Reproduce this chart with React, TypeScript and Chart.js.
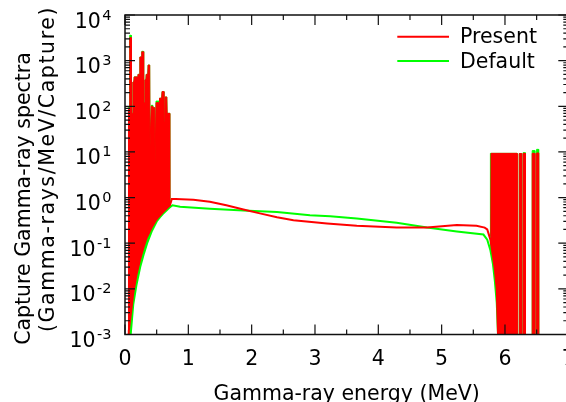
import React, { useEffect, useRef } from "react";
import { Chart, registerables } from "chart.js";

Chart.register(...registerables);

// ---------- data ----------
const seriesLabels = ["Present", "Default"];
const seriesColors = ["#ff0000", "#00ff00"];

// smooth continuum, Present
const presentX = [0.04, 0.055, 0.06, 0.095, 0.13, 0.18, 0.24, 0.29, 0.34, 0.42, 0.5, 0.6, 0.71, 0.74, 0.8, 1.08, 1.34, 1.6, 1.87, 2.13, 2.4, 2.66, 3.19, 3.66, 4.29, 4.77, 5.24, 5.55, 5.68, 5.72, 5.77, 5.81, 5.84, 5.87, 5.89, 5.9, 6.6];
const presentY = [1e-5, 1e-3, 1.2e-3, 3e-3, 8e-3, 0.02, 0.045, 0.08, 0.13, 0.22, 0.34, 0.48, 0.68, 0.93, 0.93, 0.9, 0.81, 0.68, 0.55, 0.45, 0.37, 0.32, 0.27, 0.24, 0.22, 0.22, 0.25, 0.24, 0.22, 0.2, 0.12, 0.052, 0.027, 0.01, 1e-3, 1e-5, 1e-5];

// smooth continuum, Default
const defaultX = [0.06, 0.09, 0.13, 0.18, 0.24, 0.3, 0.35, 0.42, 0.5, 0.55, 0.6, 0.7, 0.75, 0.87, 1.34, 1.87, 2.4, 2.92, 3.24, 3.66, 4.29, 4.77, 5.24, 5.66, 5.72, 5.77, 5.81, 5.84, 5.87, 5.89, 5.9, 6.6];
const defaultY = [1e-5, 1e-3, 4.5e-3, 0.012, 0.03, 0.06, 0.1, 0.18, 0.3, 0.37, 0.44, 0.6, 0.68, 0.63, 0.57, 0.52, 0.48, 0.41, 0.39, 0.35, 0.28, 0.22, 0.18, 0.155, 0.12, 0.07, 0.035, 0.015, 0.005, 1e-3, 1e-5, 1e-5];

// discrete-line envelopes, Present (null = gap)
const presentSpikeX = [0.045, 0.07, 0.075, 0.095, 0.1, 0.12, 0.125, 0.14, 0.145, 0.2, 0.205, 0.23, 0.235, 0.26, 0.265, 0.29, 0.295, 0.31, 0.315, 0.33, 0.335, 0.36, 0.365, 0.39, 0.395, 0.41, 0.415, 0.44, 0.445, 0.47, 0.475, 0.485, 0.49, 0.54, 0.545, 0.58, 0.585, 0.61, 0.615, 0.63, 0.635, 0.66, 0.665, 0.71, 0.712,
  3.0,
  5.775, 5.78, 6.19, 6.192, 6.223, 6.225, 6.26, 6.262, 6.283, 6.285, 6.32, 6.322, 6.428, 6.43, 6.47, 6.472, 6.498, 6.5, 6.53, 6.532];
const presentSpikeY = [80, 90, 3200, 3200, 70, 70, 340, 340, 440, 440, 500, 500, 1200, 1200, 1560, 1560, 120, 120, 380, 380, 500, 500, 800, 800, 13, 13, 100, 100, 93, 93, 5, 5, 120, 120, 150, 150, 210, 210, 46, 46, 160, 160, 70, 70, 0.68,
  null,
  0.14, 9.3, 9.3, 1e-5, 1e-5, 9.2, 9.2, 1e-5, 1e-5, 9.3, 9.3, 1e-5, 1e-5, 9.3, 9.3, 1e-5, 1e-5, 9.5, 9.5, 1e-5];

// discrete-line envelopes, Default (null = gap)
const defaultSpikeX = [0.045, 0.07, 0.075, 0.095, 0.1, 0.12, 0.125, 0.14, 0.145, 0.2, 0.205, 0.23, 0.235, 0.26, 0.265, 0.29, 0.295, 0.31, 0.315, 0.33, 0.335, 0.36, 0.365, 0.39, 0.395, 0.41, 0.415, 0.44, 0.445, 0.47, 0.475, 0.485, 0.49, 0.54, 0.545, 0.58, 0.585, 0.61, 0.615, 0.63, 0.635, 0.66, 0.665, 0.71, 0.712,
  3.0,
  5.765, 5.77, 6.19, 6.192, 6.223, 6.225, 6.26, 6.262, 6.283, 6.285, 6.32, 6.322, 6.428, 6.43, 6.47, 6.472, 6.498, 6.5, 6.53, 6.532];
const defaultSpikeY = [95, 95, 3600, 3600, 70, 70, 340, 340, 440, 440, 500, 500, 1200, 1200, 1600, 1600, 120, 120, 380, 380, 500, 500, 800, 800, 13, 13, 105, 105, 93, 93, 5, 5, 130, 130, 150, 150, 210, 210, 46, 46, 160, 160, 70, 70, 0.6,
  null,
  0.09, 9.3, 9.3, 1e-5, 1e-5, 9.2, 9.2, 1e-5, 1e-5, 9.6, 9.6, 1e-5, 1e-5, 10.7, 10.7, 1e-5, 1e-5, 11.4, 11.4, 1e-5];

const xTickValues = [0, 1, 2, 3, 4, 5, 6, 7];
const yTickExponents = [-3, -2, -1, 0, 1, 2, 3, 4];
const xTitle = "Gamma-ray energy (MeV)";
const yTitleLines = ["Capture Gamma-ray spectra", "(Gamma-rays/MeV/Capture)"];

// ---------- layout ----------
const W = 600;
const H = 420;
const FONT = '"DejaVu Sans", sans-serif';

const toPoints = (xs: number[], ys: (number | null)[]) => xs.map((x, i) => ({ x, y: ys[i] }));

const decorPlugin = {
  id: "decor",
  afterDraw(chart: any) {
    const { ctx, chartArea: a } = chart;
    const xs = chart.scales.x;
    const ys = chart.scales.y;
    ctx.save();
    ctx.strokeStyle = "#111";
    ctx.lineWidth = 1.5;
    ctx.strokeRect(a.left, a.top, a.right - a.left, a.bottom - a.top);

    ctx.lineWidth = 1.2;
    ctx.beginPath();
    // x ticks (major + half-unit minor), bottom and top, inward
    xTickValues.forEach((v, i) => {
      const px = xs.getPixelForValue(v);
      ctx.moveTo(px, a.bottom); ctx.lineTo(px, a.bottom - 10);
      ctx.moveTo(px, a.top); ctx.lineTo(px, a.top + 10);
      if (i < xTickValues.length - 1) {
        const pm = xs.getPixelForValue((v + xTickValues[i + 1]) / 2);
        ctx.moveTo(pm, a.bottom); ctx.lineTo(pm, a.bottom - 5);
        ctx.moveTo(pm, a.top); ctx.lineTo(pm, a.top + 5);
      }
    });
    // y ticks (decades + 2..9 minors), left and right, inward
    yTickExponents.forEach((k, i) => {
      const py = ys.getPixelForValue(Math.pow(10, k));
      ctx.moveTo(a.left, py); ctx.lineTo(a.left + 10, py);
      ctx.moveTo(a.right, py); ctx.lineTo(a.right - 10, py);
      if (i < yTickExponents.length - 1) {
        for (let m = 2; m <= 9; m++) {
          const pm = ys.getPixelForValue(m * Math.pow(10, k));
          ctx.moveTo(a.left, pm); ctx.lineTo(a.left + 5, pm);
          ctx.moveTo(a.right, pm); ctx.lineTo(a.right - 5, pm);
        }
      }
    });
    ctx.stroke();

    ctx.fillStyle = "#000";
    // x tick labels
    ctx.font = `20.5px ${FONT}`;
    ctx.textAlign = "center";
    ctx.textBaseline = "alphabetic";
    xTickValues.forEach((v) => {
      ctx.fillText(String(v), xs.getPixelForValue(v), 365);
    });
    // y tick labels 10^k
    const rightEdge = 111.5;
    yTickExponents.forEach((k) => {
      const py = ys.getPixelForValue(Math.pow(10, k));
      const exp = String(k);
      ctx.font = `14.5px ${FONT}`;
      ctx.textAlign = "right";
      const ew = ctx.measureText(exp).width;
      ctx.fillText(exp, rightEdge, py + 4.5);
      ctx.font = `20.5px ${FONT}`;
      ctx.fillText("10", rightEdge - ew - 1.5, py + 12.5);
    });
    // axis titles
    ctx.font = `20.5px ${FONT}`;
    ctx.textAlign = "center";
    ctx.fillText(xTitle, (a.left + a.right) / 2, 400);
    const yLinePos = [
      { x: 29.5, y: 198.5, sp: 0 },
      { x: 53.5, y: 169, sp: 1.6 },
    ];
    yTitleLines.forEach((t, i) => {
      ctx.save();
      ctx.translate(yLinePos[i].x, yLinePos[i].y);
      ctx.rotate(-Math.PI / 2);
      ctx.letterSpacing = `${yLinePos[i].sp}px`;
      ctx.fillText(t, 0, 0);
      ctx.restore();
    });
    // legend
    ctx.textAlign = "left";
    seriesLabels.forEach((lab, i) => {
      const ly = 36.7 + i * 24.3;
      ctx.strokeStyle = seriesColors[i];
      ctx.lineWidth = 2;
      ctx.beginPath();
      ctx.moveTo(397.3, ly);
      ctx.lineTo(449, ly);
      ctx.stroke();
      ctx.fillStyle = "#000";
      ctx.fillText(lab, 460, ly + 6.6);
    });
    ctx.restore();
  },
};

export default function App() {
  const ref = useRef<HTMLCanvasElement | null>(null);
  useEffect(() => {
    if (!ref.current) return;
    const chart = new Chart(ref.current, {
      type: "line",
      data: {
        datasets: [
          {
            label: seriesLabels[0],
            data: toPoints(presentX, presentY),
            borderColor: seriesColors[0],
            backgroundColor: seriesColors[0],
            borderWidth: 2,
            fill: false,
            order: 1,
          },
          {
            label: seriesLabels[1],
            data: toPoints(defaultX, defaultY),
            borderColor: seriesColors[1],
            backgroundColor: seriesColors[1],
            borderWidth: 2,
            fill: false,
            order: 3,
          },
          {
            label: seriesLabels[0] + " lines",
            data: toPoints(presentSpikeX, presentSpikeY),
            borderColor: seriesColors[0],
            backgroundColor: seriesColors[0],
            borderWidth: 1,
            fill: 0,
            order: 0,
          },
          {
            label: seriesLabels[1] + " lines",
            data: toPoints(defaultSpikeX, defaultSpikeY),
            borderColor: seriesColors[1],
            backgroundColor: seriesColors[1],
            borderWidth: 1,
            fill: 1,
            order: 2,
          },
        ] as any,
      },
      options: {
        animation: false,
        responsive: false,
        maintainAspectRatio: false,
        spanGaps: false,
        layout: { padding: { left: 125, top: 15, right: W - 568.3, bottom: H - 334.5 } },
        elements: { point: { radius: 0 }, line: { tension: 0 } },
        plugins: { legend: { display: false }, tooltip: { enabled: false } },
        scales: {
          x: { type: "linear", min: 0, max: 7, display: false },
          y: { type: "logarithmic", min: 1e-3, max: 1e4, display: false },
        },
      } as any,
      plugins: [decorPlugin],
    });
    return () => chart.destroy();
  }, []);
  return (
    <div style={{ position: "fixed", left: 0, top: 0, width: 566, height: 402, overflow: "hidden", background: "#fff" }}>
      <canvas ref={ref} width={W} height={H} style={{ display: "block", width: W, height: H }} />
    </div>
  );
}
